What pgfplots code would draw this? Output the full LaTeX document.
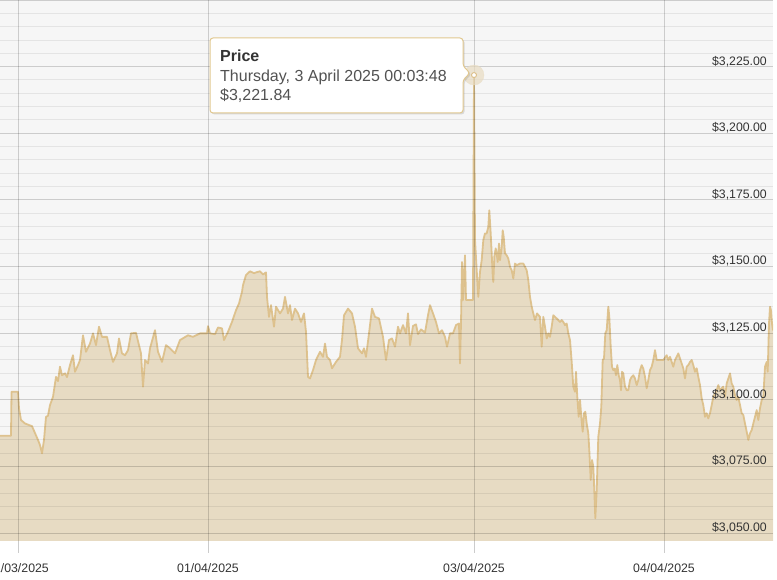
\documentclass[border=0pt]{standalone}
\usepackage{pgfplots}
\usepackage{pgfplotstable}
\pgfplotsset{compat=1.18}
\usepackage{fontspec}
\setmainfont{Liberation Sans}
\usetikzlibrary{shadows}
\definecolor{bgc}{HTML}{F6F6F6}
\definecolor{majgrid}{HTML}{CCCCCC}
\definecolor{fillc}{HTML}{DAC292}
\definecolor{halo}{HTML}{E9DCC2}
\definecolor{linec}{HTML}{DCBE86}
\definecolor{txt}{HTML}{333333}
\definecolor{tipborder}{HTML}{E1C88F}

\pgfplotstableread{
x y
0 3086.5
11 3086.5
11.5 3103
18 3103
19 3096.8
21 3092.4
25 3091.1
29 3090.5
32 3090.1
35 3087.5
38 3084.9
40 3083
42 3079.9
44 3084.9
46 3093.6
48 3094
50 3098
53 3101.1
56 3108.6
58 3107
60 3112.4
62 3109.2
65 3109.9
67 3108.5
70 3113
73 3116.7
75 3110.5
78 3113
80 3114.9
83 3124.2
86 3118
90 3121.1
93 3124.9
96 3120.5
99 3127.4
102 3123.6
107 3123.6
110 3118.6
113 3114.2
117 3117.4
119 3123
122 3117.4
125 3116.7
128 3118.6
131 3124.9
136 3125.1
139 3120.5
141 3117.4
143 3104.9
145 3114.9
148 3113.6
150 3119.3
155 3126.1
158 3118
162 3114.2
166 3120.5
170 3119.3
175 3117.4
180 3122.4
188 3124.2
193 3123.6
200 3124.9
207 3124.9
208 3127.6
210 3124.9
215 3124.6
218 3127.1
222 3126.8
224 3122.4
228 3125.5
232 3129.2
236 3133.6
239 3136.1
242 3140.5
243 3143
246 3146.8
250 3148.2
254 3147.5
257 3147.9
260 3148.2
263 3147
266 3147.8
267 3138.6
269 3131.1
271 3135.5
274 3127.4
276 3134.9
280 3132.4
283 3134.2
285 3138.6
288 3132.4
290 3135.5
292 3129.9
295 3134.2
298 3132.4
301 3129.2
304 3132.4
306 3125.5
308 3108.6
310 3108
313 3111.1
316 3114.9
320 3118
323 3116.1
325 3121.1
327 3116.1
330 3114.9
332 3111.8
336 3114.2
340 3116.1
342 3122.4
344 3131.7
348 3134.2
352 3132.4
355 3127.4
358 3119.3
362 3117.4
364 3119.3
366 3116.1
369 3124.9
372 3134.2
375 3131.1
379 3130.5
383 3123.6
386 3114.9
389 3122.4
392 3123
395 3119.9
398 3127.4
400 3124.9
403 3128
406 3124.9
408 3132.4
410 3120.5
413 3127.7
416 3128.3
418 3124.6
421 3126.4
423 3125.8
425 3125.2
428 3131.7
430 3135.5
433 3132.4
436 3129.2
439 3124.9
442 3126.1
445 3123.6
447 3119.9
450 3124.9
453 3124.9
456 3128
459 3128.6
460 3113.6
461 3128.6
462 3151.7
463 3137.4
465 3154.2
466 3137.4
473 3137.4
474 3221.84
475 3160
476.7 3148.6
478.3 3138.6
480 3148
481.7 3152.4
483.3 3159.9
485 3162.4
486.7 3162.4
488.3 3164.9
489.3 3171.1
490.7 3162.4
491.7 3154.9
492.7 3146.7
493.3 3144.2
494.3 3153.6
495.7 3156.8
496.7 3154.9
497.7 3151.7
499 3158.6
500 3152.4
501.7 3157.4
502.7 3163.6
503.7 3161.1
505 3154.9
506.7 3154.2
508.3 3153
510 3149.9
511.7 3148.6
513.3 3145.5
515 3151.1
516.7 3150.5
520 3151.1
523.3 3151.1
525 3149.9
526.7 3148.6
528.3 3144.9
530 3138.6
531.7 3134.9
533.3 3132.4
535 3129.9
537 3132.4
540 3131.1
541.7 3119.9
543.3 3131.1
545 3127.4
546.7 3123
548.3 3124.9
550 3123.6
551.7 3127.4
553.3 3131.7
555 3131.1
556.7 3130.5
558.3 3129.9
560 3129.2
561.7 3129.9
563.3 3129.2
565 3128
566.7 3128.6
568.3 3124.9
570 3122.4
571.7 3114.2
573.3 3104.9
575 3103
576 3110.5
577.3 3101.1
578.7 3093.6
580 3099.9
581.3 3093.6
582.7 3088
584 3094.9
585.3 3095.5
586.7 3091.1
588.3 3087.4
589.3 3081.1
590.7 3069.9
592 3077.4
593.3 3074.9
594.3 3066.1
595.3 3055.5
596.7 3066.1
598.3 3086.1
600 3091.1
601.3 3097.4
602.7 3114.9
604 3115.5
605.3 3124.9
606.7 3126.1
608.3 3134.9
609.3 3131.1
610.7 3119.9
612 3112.4
613.3 3111.1
614.7 3111.7
616 3109.2
617.3 3113
618.7 3109.2
620 3107.4
621 3103.6
622 3110.5
623.3 3109.9
625 3104.9
626.7 3103.6
628.3 3103.6
630 3107.4
631.7 3108.6
633.3 3109.2
635 3108
636.7 3105.5
638.3 3107.4
640 3111.1
641.7 3113
643.3 3111.7
645 3108.6
646.7 3104.3
648.3 3107.4
650 3111.1
651.7 3112.4
653.3 3114.9
655 3118.6
656.7 3114.9
658.3 3114.9
660 3114.9
663.3 3114.9
666.7 3116.7
668.3 3114.9
670 3116.1
671.7 3114.2
673.3 3112.4
675 3114.9
676.7 3116.1
678.3 3117.4
680 3115.5
681.7 3113.6
683.3 3111.8
685 3108
686.7 3112.4
688.3 3113
690 3114.2
691.7 3114.9
693.3 3113
695 3110.5
696.7 3111.8
698.3 3108.6
700 3105.5
701.7 3100.5
703.3 3098
705 3093.6
706.7 3094.9
708.3 3093
710 3094.9
711.7 3098
713.3 3101.1
715 3102.4
716.7 3103.6
718.3 3105.5
720 3103.6
721.7 3104.3
723.3 3104.9
725 3101.1
726.7 3106.1
728.3 3108
730 3109.9
731.7 3106.1
733.3 3104.9
735 3101.7
736.7 3099.9
738.3 3101.1
740 3098
741.7 3094.9
743.3 3094.3
745 3091.1
746.7 3088
748.3 3084.9
750 3087.4
751.7 3088.6
753.3 3091.1
755 3093.6
756.7 3096.1
758.3 3092.4
760 3096.8
761.7 3099.9
763.3 3101.1
765 3112.4
766.7 3114.2
767.7 3110.5
769 3128.6
770 3134.9
771 3133.6
772 3128.6
773 3126
}\gold

\begin{document}
\begin{tikzpicture}[x=1pt,y=1pt]
\begin{axis}[
  axis on top,
  at={(0pt,0pt)}, anchor=origin,
  scale only axis, width=773pt, height=541pt,
  xmin=0, xmax=773, ymin=3047, ymax=3250,
  axis background/.style={fill=bgc},
  axis line style={draw=none},
  xtick={18,208,474,664},
  xticklabels={31/03/2025,01/04/2025,03/04/2025,04/04/2025},
  ytick={3050,3075,3100,3125,3150,3175,3200,3225,3250},
  yticklabels={{\$3,050.00},{\$3,075.00},{\$3,100.00},{\$3,125.00},{\$3,150.00},{\$3,175.00},{\$3,200.00},{\$3,225.00},{}},
  minor y tick num=4,
  xmajorgrids, ymajorgrids, yminorgrids,
  major grid style={draw=black, draw opacity=0.17, line width=0.9pt},
  minor grid style={draw=black, draw opacity=0.07, line width=0.9pt},
  tick align=outside,
  major tick length=12pt,
  x tick style={draw=majgrid, line width=0.9pt},
  y tick style={draw=none},
  minor tick style={draw=none},
  yticklabel pos=right,
  yticklabel style={anchor=base east, inner sep=0pt, xshift=-18pt, yshift=1.5pt, font=\fontsize{12.3}{14}\selectfont, text=txt},
  xticklabel style={anchor=base, inner sep=0pt, yshift=-19.7pt, font=\fontsize{12.3}{14}\selectfont, text=txt},
  clip=true,
]
\addplot[draw=none, fill=fillc, fill opacity=0.5] table {\gold} \closedcycle;
\addplot[draw=linec, draw opacity=0.9, line width=1.8pt, line join=round] table {\gold};
\addplot[only marks, mark=*, mark size=10pt, color=halo, opacity=0.7] coordinates {(474,3221.84)};
\addplot[only marks, mark=*, mark size=2.5pt, mark options={draw=linec, fill=white, line width=0.9pt}] coordinates {(474,3221.84)};
\end{axis}
% tooltip
\draw[tipborder, line width=1pt, fill=white, rounded corners=3pt,
      drop shadow={opacity=0.25, shadow xshift=1.5pt, shadow yshift=-1.5pt}]
  (210,428) -- (210,503) -- (463,503) -- (463,475) -- (470,468) -- (463,461) -- (463,428) -- cycle;
\node[anchor=base west, inner sep=0pt, text=txt, font=\fontsize{16}{18}\selectfont\bfseries] at (220,479) {Price};
\node[anchor=base west, inner sep=0pt, text=txt!85!white, font=\fontsize{16}{18}\selectfont] at (220,459.5) {Thursday, 3 April 2025 00:03:48};
\node[anchor=base west, inner sep=0pt, text=txt!85!white, font=\fontsize{16}{18}\selectfont] at (220,440.3) {\$3,221.84};
\pgfresetboundingbox
\useasboundingbox (0pt,-39pt) rectangle (777pt,541pt);
\end{tikzpicture}
\end{document}
